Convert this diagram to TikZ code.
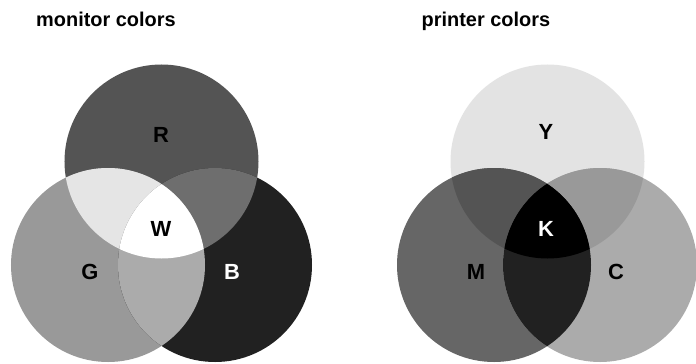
\documentclass[tikz,border=0pt]{standalone}
\usepackage{fontspec}
\setmainfont{Liberation Sans}
\definecolor{cR}{gray}{0.33}
\definecolor{cG}{gray}{0.60}
\definecolor{cB}{gray}{0.13}
\definecolor{cRG}{gray}{0.90}
\definecolor{cRB}{gray}{0.43}
\definecolor{cGB}{gray}{0.67}
\definecolor{cY}{gray}{0.89}
\definecolor{cM}{gray}{0.40}
\definecolor{cC}{gray}{0.67}
\definecolor{cYM}{gray}{0.33}
\definecolor{cYC}{gray}{0.60}
\definecolor{cMC}{gray}{0.13}
\tikzset{
  disc/.style={circle, minimum size=194bp, inner sep=0pt, draw=none},
  lbl/.style={font=\fontsize{22}{26}\selectfont\bfseries, inner sep=0pt},
  ttl/.style={font=\fontsize{20}{24}\selectfont\bfseries, inner sep=0pt, anchor=base west}
}
\begin{document}
\begin{tikzpicture}[x=1bp,y=1bp]
\useasboundingbox (0,0) rectangle (696,363);
\fill[white] (0,0) rectangle (696,363);
% monitor colors
\node[disc, fill=cR] (R) at (161.5,201.5) {};
\node[disc, fill=cG] (G) at (108,98) {};
\node[disc, fill=cB] (B) at (215,98) {};
\begin{scope}
  \clip (R.center) circle (97bp);
  \fill[cRG] (G.center) circle (97bp);
  \fill[cRB] (B.center) circle (97bp);
\end{scope}
\begin{scope}
  \clip (G.center) circle (97bp);
  \fill[cGB] (B.center) circle (97bp);
  \clip (B.center) circle (97bp);
  \fill[white] (R.center) circle (97bp);
\end{scope}
% printer colors
\node[disc, fill=cY] (Y) at (547.5,201.5) {};
\node[disc, fill=cM] (M) at (494,98) {};
\node[disc, fill=cC] (C) at (600,98) {};
\begin{scope}
  \clip (Y.center) circle (97bp);
  \fill[cYM] (M.center) circle (97bp);
  \fill[cYC] (C.center) circle (97bp);
\end{scope}
\begin{scope}
  \clip (M.center) circle (97bp);
  \fill[cMC] (C.center) circle (97bp);
  \clip (C.center) circle (97bp);
  \fill[black] (Y.center) circle (97bp);
\end{scope}
% labels
\node[lbl] (lR) at (161,228) {R};
\node[lbl] (lW) at (161,134) {W};
\node[lbl] (lG) at (90,91) {G};
\node[lbl, text=white] (lB) at (232,91) {B};
\node[lbl] (lY) at (546,231) {Y};
\node[lbl, text=white] (lK) at (546,134) {K};
\node[lbl] (lM) at (476,91) {M};
\node[lbl] (lC) at (616,91) {C};
% titles
\node[ttl] (t1) at (36,337) {monitor colors};
\node[ttl] (t2) at (421.5,337) {printer colors};
\end{tikzpicture}
\end{document}
